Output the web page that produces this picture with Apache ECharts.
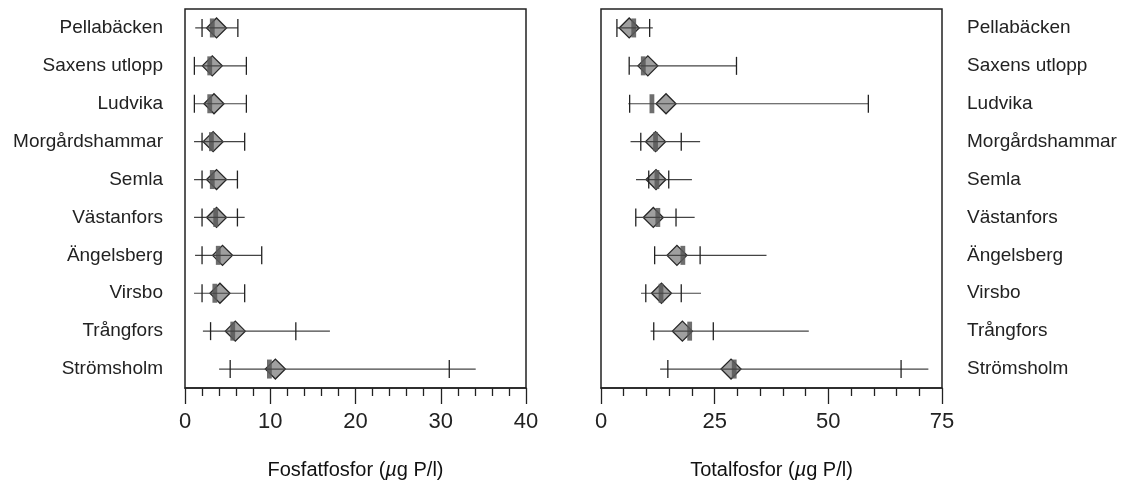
<!DOCTYPE html>
<html>
<head>
<meta charset="utf-8">
<script src="https://cdn.jsdelivr.net/npm/echarts@6/dist/echarts.min.js"></script>
<style>
html,body{margin:0;padding:0;background:#fff;}
#chart{width:1127px;height:487px;}
</style>
</head>
<body>
<div id="chart"></div>
<script>
const categories = ['Pellabäcken','Saxens utlopp','Ludvika','Morgårdshammar','Semla','Västanfors','Ängelsberg','Virsbo','Trångfors','Strömsholm'];

// Fosfatfosfor (µg P/l)
const fosMin    = [1.2, 1.1, 1.1, 1.06, 1.06, 1.06, 1.18, 1.06, 2.1, 4.0];
const fosP10    = [2.0, 1.1, 1.1, 2.0, 2.0, 2.0, 2.0, 2.0, 3.0, 5.3];
const fosMedian = [3.2, 2.9, 2.9, 3.1, 3.2, 3.6, 3.9, 3.5, 5.6, 9.9];
const fosMean   = [3.7, 3.2, 3.4, 3.3, 3.7, 3.7, 4.4, 4.1, 5.9, 10.6];
const fosP90    = [6.2, 7.2, 7.2, 7.0, 6.15, 6.15, 9.0, 7.0, 13.0, 31.0];
const fosMax    = [6.2, 7.2, 7.2, 7.0, 6.15, 7.0, 9.0, 7.0, 17.0, 34.1];

// Totalfosfor (µg P/l)
const totMin    = [3.5, 6.2, 6.0, 6.5, 7.7, 7.65, 11.8, 8.8, 10.9, 13.0];
const totP10    = [3.5, 6.2, 6.3, 8.75, 10.5, 7.65, 11.8, 9.85, 11.6, 14.7];
const totMedian = [7.2, 9.3, 11.2, 12.0, 12.3, 12.5, 18.0, 13.2, 19.5, 29.3];
const totMean   = [6.2, 10.3, 14.3, 12.0, 12.1, 11.5, 16.7, 13.3, 17.9, 28.6];
const totP90    = [10.7, 29.8, 58.8, 17.65, 14.9, 16.5, 21.8, 17.65, 24.7, 66.0];
const totMax    = [11.4, 29.8, 58.8, 21.8, 20.0, 20.6, 36.4, 22.0, 45.7, 72.0];

const fosTicks = {min: 0, max: 40, interval: 10};
const totTicks = {min: 0, max: 75, interval: 25};

const FONT = "'Liberation Sans', Arial, Helvetica, sans-serif";

function rows(mn, p10, med, mean, p90, mx) {
  return categories.map((c, i) => [i, mn[i], p10[i], med[i], mean[i], p90[i], mx[i]]);
}

function renderItem(params, api) {
  const idx = api.value(0);
  const pMin = api.coord([api.value(1), idx]);
  const pP10 = api.coord([api.value(2), idx]);
  const pMed = api.coord([api.value(3), idx]);
  const pMean = api.coord([api.value(4), idx]);
  const pP90 = api.coord([api.value(5), idx]);
  const pMax = api.coord([api.value(6), idx]);
  const y = pMin[1];
  const th = 9;
  const dw = 10, dh = 10;
  const mw = 2.4;
  const children = [
    {type: 'polygon', shape: {points: [[pMean[0]-dw, y],[pMean[0], y-dh],[pMean[0]+dw, y],[pMean[0], y+dh]]},
      style: {fill: '#9f9f9f', stroke: '#262626', lineWidth: 1.3}},
    {type: 'rect', shape: {x: pMed[0]-mw, y: y-dh+0.5, width: mw*2, height: dh*2-1},
      style: {fill: 'rgba(90,90,90,0.88)'}},
    {type: 'line', shape: {x1: pMin[0], y1: y, x2: pMax[0], y2: y}, style: {stroke: '#444', lineWidth: 1.2}},
    {type: 'line', shape: {x1: pP10[0], y1: y-th, x2: pP10[0], y2: y+th}, style: {stroke: '#222', lineWidth: 1.3}},
    {type: 'line', shape: {x1: pP90[0], y1: y-th, x2: pP90[0], y2: y+th}, style: {stroke: '#222', lineWidth: 1.3}}
  ];
  return {type: 'group', children: children};
}

function xAxisFor(gridIndex, ticks, nameText) {
  return {
    type: 'value', gridIndex: gridIndex,
    min: ticks.min, max: ticks.max, interval: ticks.interval,
    axisLine: {show: true, lineStyle: {color: '#222', width: 1.5}},
    axisTick: {show: true, inside: false, length: 16, lineStyle: {color: '#222', width: 1.3}},
    minorTick: {show: true, splitNumber: 5, length: 8, lineStyle: {color: '#222', width: 1.3}},
    splitLine: {show: false},
    axisLabel: {fontSize: 22, color: '#222', fontFamily: FONT, margin: 23},
    name: '{n|' + nameText + ' (}{i|µ}{n|g P/l)}',
    nameLocation: 'middle', nameGap: 72,
    nameTextStyle: {
      rich: {
        n: {fontSize: 20, color: '#111', fontFamily: FONT},
        i: {fontSize: 20, color: '#111', fontFamily: FONT, fontStyle: 'italic'}
      }
    }
  };
}

function yAxisFor(gridIndex, position, margin) {
  return {
    type: 'category', gridIndex: gridIndex, data: categories, inverse: true,
    position: position,
    axisLine: {show: false}, axisTick: {show: false}, splitLine: {show: false},
    axisLabel: {fontSize: 19, color: '#222', fontFamily: FONT, margin: margin,
      align: position === 'left' ? 'right' : 'left'}
  };
}

const chart = echarts.init(document.getElementById('chart'), null, {renderer: 'canvas'});
chart.setOption({
  backgroundColor: '#fff',
  animation: false,
  grid: [
    {left: 185, top: 9, width: 341, height: 379, show: true, borderColor: '#222', borderWidth: 1.5, containLabel: false},
    {left: 601, top: 9, width: 341, height: 379, show: true, borderColor: '#222', borderWidth: 1.5, containLabel: false}
  ],
  xAxis: [xAxisFor(0, fosTicks, 'Fosfatfosfor'), xAxisFor(1, totTicks, 'Totalfosfor')],
  yAxis: [yAxisFor(0, 'left', 22), yAxisFor(1, 'right', 25)],
  series: [
    {type: 'custom', xAxisIndex: 0, yAxisIndex: 0, renderItem: renderItem,
      encode: {x: [1,2,3,4,5,6], y: 0}, data: rows(fosMin, fosP10, fosMedian, fosMean, fosP90, fosMax)},
    {type: 'custom', xAxisIndex: 1, yAxisIndex: 1, renderItem: renderItem,
      encode: {x: [1,2,3,4,5,6], y: 0}, data: rows(totMin, totP10, totMedian, totMean, totP90, totMax)}
  ]
});
</script>
</body>
</html>
